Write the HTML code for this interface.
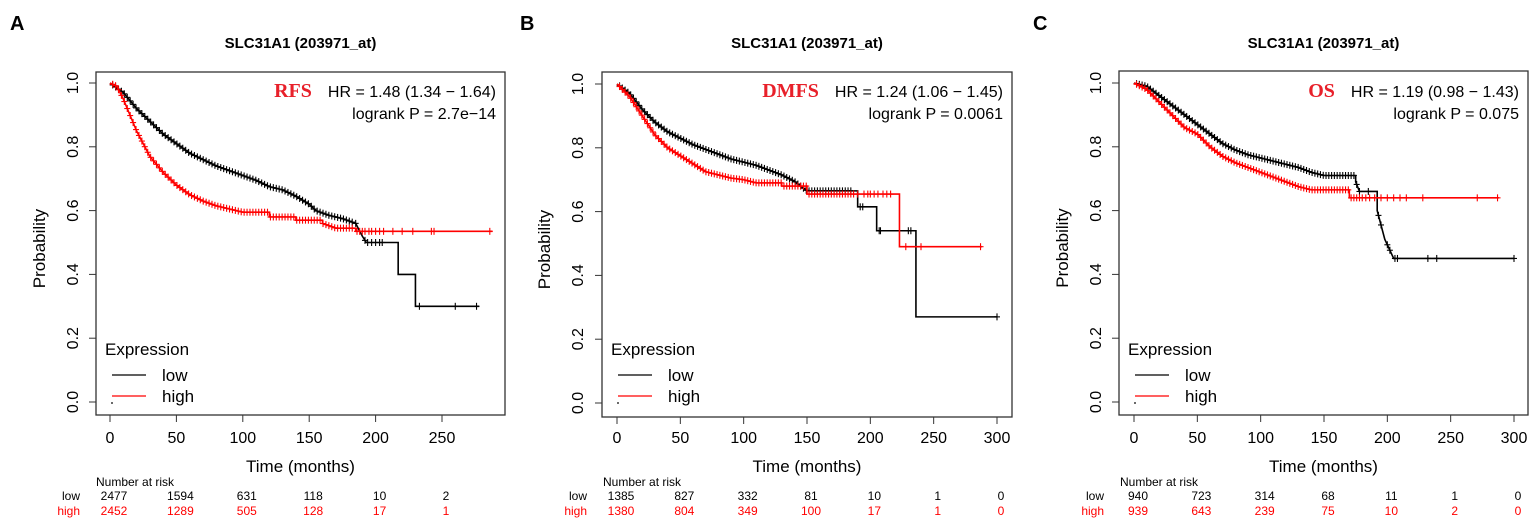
<!DOCTYPE html>
<html><head><meta charset="utf-8"><style>
body{margin:0;background:#fff;width:1535px;height:525px;overflow:hidden;font-family:"Liberation Sans",sans-serif}
</style></head><body>
<svg id="fig" width="1535" height="525" xmlns="http://www.w3.org/2000/svg" font-family="Liberation Sans, sans-serif"></svg>
<script>
// ---- Panel A (RFS) data ----
const aLowT=[0,10,20,30,40,50,60,70,80,90,100,110,120,130,140,150,155,165,175,185,190,193,217,230,278];
const aLowS=[1,.97,.92,.88,.84,.81,.78,.76,.74,.725,.71,.695,.675,.665,.645,.62,.6,.585,.575,.56,.52,.5,.4,.3,.3];
const aHighT=[0,5,10,15,20,25,30,40,50,60,70,80,90,100,120,140,160,170,185,288];
const aHighS=[1,.99,.95,.9,.85,.81,.77,.72,.68,.65,.63,.615,.605,.595,.58,.57,.56,.545,.535,.535];
const aLowCens=[185,192,194,197,200,203,205,233,260,276];
const aHighCens=[186,188,190,192,195,197,200,203,206,213,220,228,242,244,286];
const aRiskLow=[2477,1594,631,118,10,2];
const aRiskHigh=[2452,1289,505,128,17,1];
const aTicks=[0,50,100,150,200,250];
// ---- Panel B (DMFS) data ----
const bLowT=[0,10,20,30,40,50,60,70,80,90,100,110,120,130,140,150,190,205,236,300];
const bLowS=[1,.97,.92,.88,.85,.83,.81,.795,.78,.765,.755,.745,.73,.715,.695,.665,.615,.54,.27,.27];
const bHighT=[0,10,20,30,40,50,60,70,80,90,100,110,130,150,223,288];
const bHighS=[1,.96,.9,.84,.8,.775,.75,.725,.715,.705,.7,.69,.68,.655,.49,.49];
const bLowCens=[192,194,207,208,230,232,300];
const bHighCens=[190,195,198,200,203,206,210,213,216,228,240,287];
const bRiskLow=[1385,827,332,81,10,1,0];
const bRiskHigh=[1380,804,349,100,17,1,0];
const bTicks=[0,50,100,150,200,250,300];
// ---- Panel C (OS) data ----
const cLowT=[0,10,20,30,40,50,60,70,80,90,100,110,120,130,140,150,175,178,192,198,205,300];
const cLowS=[1,.99,.96,.93,.9,.87,.84,.81,.79,.775,.765,.755,.745,.735,.72,.71,.69,.66,.6,.51,.45,.45];
const cHighT=[0,10,20,30,40,50,60,70,80,90,100,110,120,130,140,170,288];
const cHighS=[1,.98,.94,.9,.86,.84,.8,.77,.75,.735,.72,.705,.69,.675,.665,.64,.64];
const cLowCens=[185,193,195,200,202,206,208,232,239,300];
const cHighCens=[183,186,190,195,200,205,210,215,228,271,287];
const cRiskLow=[940,723,314,68,11,1,0];
const cRiskHigh=[939,643,239,75,10,2,0];
const cTicks=[0,50,100,150,200,250,300];

const panels=[
 {id:'a',letter:'A',lx:10,box:[96,72,505,415],xr:[0,250,110,442],yr:[83,402],end:'RFS',hr:'HR = 1.48 (1.34 − 1.64)',p:'logrank P = 2.7e−14',
  lowT:aLowT,lowS:aLowS,highT:aHighT,highS:aHighS,lc:aLowCens,hc:aHighCens,ld:183,hd:184,rl:aRiskLow,rh:aRiskHigh,ticks:aTicks,ylab:72,prob:45},
 {id:'b',letter:'B',lx:520,box:[602,72,1012,417],xr:[0,300,617,997],yr:[84,403],end:'DMFS',hr:'HR = 1.24 (1.06 − 1.45)',p:'logrank P = 0.0061',
  lowT:bLowT,lowS:bLowS,highT:bHighT,highS:bHighS,lc:bLowCens,hc:bHighCens,ld:185,hd:188,rl:bRiskLow,rh:bRiskHigh,ticks:bTicks,ylab:577,prob:550},
 {id:'c',letter:'C',lx:1033,box:[1119,71,1528,415],xr:[0,300,1134,1514],yr:[83,402],end:'OS',hr:'HR = 1.19 (0.98 − 1.43)',p:'logrank P = 0.075',
  lowT:cLowT,lowS:cLowS,highT:cHighT,highS:cHighS,lc:cLowCens,hc:cHighCens,ld:180,hd:181,rl:cRiskLow,rh:cRiskHigh,ticks:cTicks,ylab:1095,prob:1068}
];
const svg=document.getElementById('fig');
const NS='http://www.w3.org/2000/svg';
function mk(tag,attrs,parent,text){const e=document.createElementNS(NS,tag);for(const k in attrs)e.setAttribute(k,attrs[k]);if(text!==undefined)e.textContent=text;parent.appendChild(e);return e;}
function valAt(T,S,t){
 for(let i=1;i<T.length;i++){
  if(t<=T[i]){const dt=T[i]-T[i-1];
   if(dt<=12) return S[i-1]+(S[i]-S[i-1])*(t-T[i-1])/dt;
   return t<T[i]?S[i-1]:S[i];}
 }
 return S[S.length-1];
}
panels.forEach(P=>{
 const g=mk('g',{},svg);
 
 
 const X=t=>P.xr[2]+(t-P.xr[0])*(P.xr[3]-P.xr[2])/(P.xr[1]-P.xr[0]);
 const Y=s=>P.yr[1]-s*(P.yr[1]-P.yr[0]);
 const [bx0,by0,bx1,by1]=P.box;
 let e=mk('text',{x:P.lx,y:30,'font-size':20,'font-weight':'bold'},g,P.letter);
 
 e=mk('text',{x:(bx0+bx1)/2,y:48,'font-size':15,'font-weight':'bold','text-anchor':'middle'},g,'SLC31A1 (203971_at)');
 
 e=mk('rect',{x:bx0,y:by0,width:bx1-bx0,height:by1-by0,fill:'none',stroke:'#333','stroke-width':1.3},g);
 
 const xa=mk('g',{},g);
 mk('line',{x1:X(P.ticks[0]),x2:X(P.ticks[P.ticks.length-1]),y1:by1,y2:by1,stroke:'#333'},xa);
 P.ticks.forEach(t=>{mk('line',{x1:X(t),x2:X(t),y1:by1,y2:by1+7,stroke:'#333'},xa);
  const l=mk('text',{x:X(t),y:443,'font-size':16,'text-anchor':'middle'},xa,t);
  });
 e=mk('text',{x:(bx0+bx1)/2,y:472,'font-size':17,'text-anchor':'middle'},g,'Time (months)');
 
 const ya=mk('g',{},g);
 [0,.2,.4,.6,.8,1].forEach(v=>{mk('line',{x1:bx0,x2:bx0-7,y1:Y(v),y2:Y(v),stroke:'#333'},ya);
  const l=mk('text',{x:P.ylab,y:Y(v),'font-size':16,'text-anchor':'middle',transform:`rotate(-90 ${P.ylab} ${Y(v)})`,dy:6},ya,v.toFixed(1));
  });
 e=mk('text',{x:P.prob,y:(by0+by1)/2+5,'font-size':17,'text-anchor':'middle',transform:`rotate(-90 ${P.prob} ${(by0+by1)/2+5})`},g,'Probability');
 
 function curve(T,S,C,dEnd,color,name){
  let d=`M${X(T[0])},${Y(S[0])}`;
  for(let i=1;i<T.length;i++){
   if(T[i]-T[i-1]<=12) d+=` L${X(T[i])},${Y(S[i])}`;
   else d+=` H${X(T[i])} V${Y(S[i])}`;
  }
  const p=mk('path',{d:d,fill:'none',stroke:color,'stroke-width':1.6},g);
  
  const cg=mk('g',{stroke:color,'stroke-width':1.1},g);
  
  const all=[];for(let t=2;t<=dEnd;t+=2.2)all.push(t);
  all.concat(C).forEach(t=>{const x=X(t),y=Y(valAt(T,S,t));
   mk('line',{x1:x-3,x2:x+3,y1:y,y2:y},cg);mk('line',{x1:x,x2:x,y1:y-3.5,y2:y+3.5},cg);});
 }
 curve(P.lowT,P.lowS,P.lc,P.ld,'#000','low');
 curve(P.highT,P.highS,P.hc,P.hd,'#f00','high');
 const hr=mk('text',{x:bx1-9,y:97,'font-size':16,'text-anchor':'end'},g,P.hr);
 
 const w=hr.getComputedTextLength();
 e=mk('text',{x:bx1-9-w-16,y:97,'font-size':20,'font-weight':'bold','font-family':'Liberation Serif, serif',fill:'#e8202a','text-anchor':'end'},g,P.end);
 
 e=mk('text',{x:bx1-9,y:119,'font-size':16,'text-anchor':'end'},g,P.p);
 
 const lg=mk('g',{},g);
 mk('text',{x:bx0+9,y:355,'font-size':17},lg,'Expression');
 mk('line',{x1:bx0+16,x2:bx0+50,y1:375,y2:375,stroke:'#000','stroke-width':1.3},lg);
 e=mk('text',{x:bx0+66,y:381,'font-size':17},lg,'low');
 mk('line',{x1:bx0+16,x2:bx0+50,y1:396,y2:396,stroke:'#f00','stroke-width':1.3},lg);
 e=mk('text',{x:bx0+66,y:402,'font-size':17},lg,'high');
 mk('circle',{cx:bx0+16,cy:403,r:0.9,fill:'#000'},lg);
 const rt=mk('g',{'font-size':12},g);
 mk('text',{x:X(0)-14,y:486},rt,'Number at risk');
 mk('text',{x:X(0)-30,y:500,'text-anchor':'end'},rt,'low');
 mk('text',{x:X(0)-30,y:515,'text-anchor':'end',fill:'#f00'},rt,'high');
 P.ticks.forEach((t,i)=>{
  mk('text',{x:X(t)+4,y:500,'text-anchor':'middle'},rt,P.rl[i]);
  mk('text',{x:X(t)+4,y:515,'text-anchor':'middle',fill:'#f00'},rt,P.rh[i]);});
});
</script>
</body></html>
